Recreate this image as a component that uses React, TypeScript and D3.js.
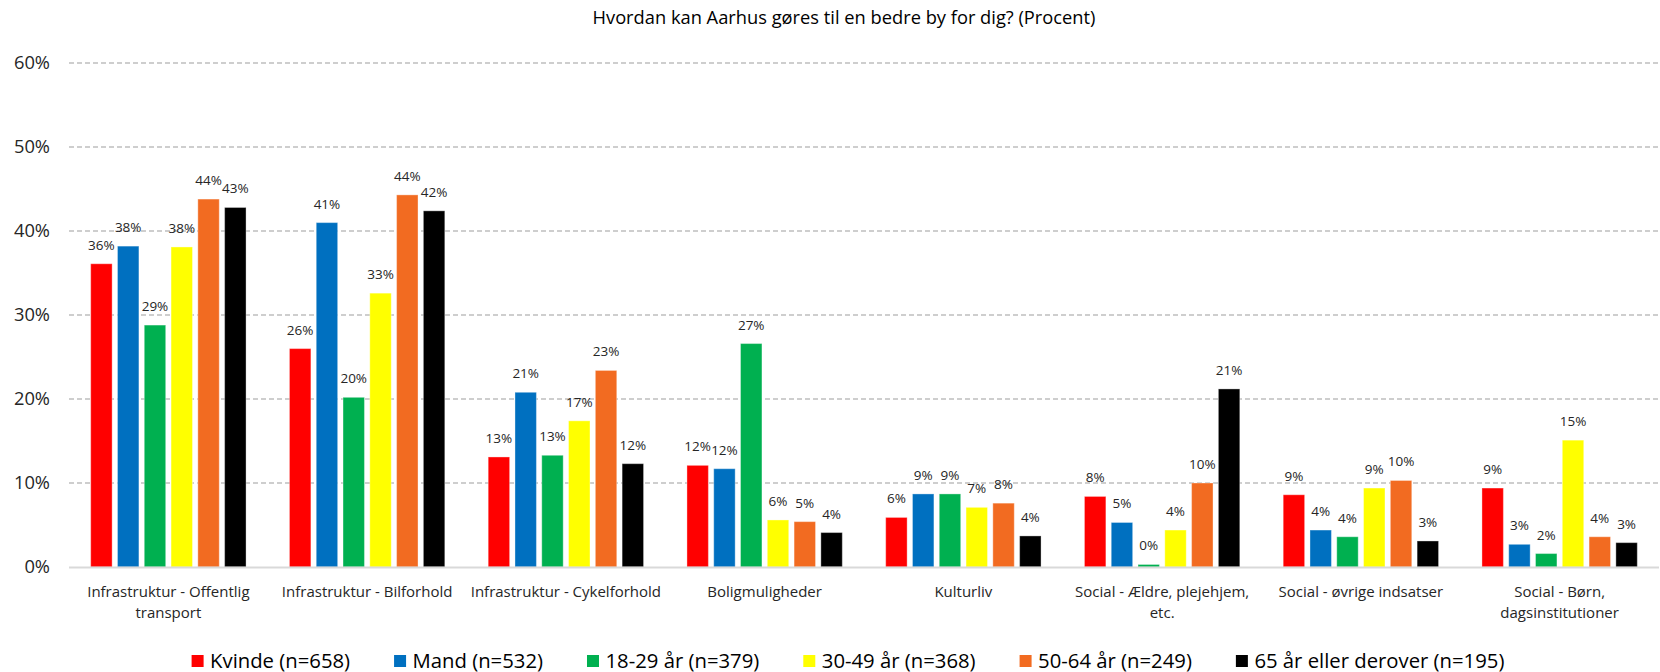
import React, { useEffect, useRef } from 'react';
import * as d3 from 'd3';

// categories on the x axis (line breaks as in the original)
const categories = [
  'Infrastruktur - Offentlig|transport',
  'Infrastruktur - Bilforhold',
  'Infrastruktur - Cykelforhold',
  'Boligmuligheder',
  'Kulturliv',
  'Social - Ældre, plejehjem,|etc.',
  'Social - øvrige indsatser',
  'Social - Børn,|dagsinstitutioner',
];

const seriesNames = [
  'Kvinde (n=658)',
  'Mand (n=532)',
  '18-29 år (n=379)',
  '30-49 år (n=368)',
  '50-64 år (n=249)',
  '65 år eller derover (n=195)',
];

const seriesColors = ['#FF0000', '#0070C0', '#00B050', '#FFFF00', '#F26B21', '#000000'];

// percent values, one array per series
const kvinde = [36.1, 26.0, 13.1, 12.1, 5.9, 8.4, 8.6, 9.4];
const mand = [38.2, 41.0, 20.8, 11.7, 8.7, 5.3, 4.4, 2.7];
const aar18_29 = [28.8, 20.2, 13.3, 26.6, 8.7, 0.3, 3.6, 1.6];
const aar30_49 = [38.1, 32.6, 17.4, 5.6, 7.1, 4.4, 9.4, 15.1];
const aar50_64 = [43.8, 44.3, 23.4, 5.4, 7.6, 10.0, 10.3, 3.6];
const aar65 = [42.8, 42.4, 12.3, 4.1, 3.7, 21.2, 3.1, 2.9];

const seriesValues = [kvinde, mand, aar18_29, aar30_49, aar50_64, aar65];

const yTicks = [0, 10, 20, 30, 40, 50, 60];

const title = 'Hvordan kan Aarhus gøres til en bedre by for dig? (Procent)';

const FONT = '"Segoe UI", "Open Sans", sans-serif';

const App = () => {
  const svgRef = useRef<SVGSVGElement | null>(null);

  useEffect(() => {
    if (!svgRef.current) return;
    d3.select(svgRef.current).selectAll('*').remove();

    const width = 1660;
    const height = 672;
    const margin = { top: 63, right: 1, bottom: 105, left: 69 };

    const svg = d3.select(svgRef.current)
      .attr('width', width)
      .attr('height', height)
      .style('font-family', FONT);

    const x0 = d3.scaleBand()
      .domain(categories)
      .range([margin.left, width - margin.right]);

    const inner = 21.7;
    const x1 = d3.scaleBand()
      .domain(seriesNames)
      .range([inner, x0.bandwidth() - inner])
      .paddingInner(0.2);

    const y = d3.scaleLinear()
      .domain([0, 60])
      .range([height - margin.bottom, margin.top]);

    // title
    svg.append('text')
      .attr('x', 844)
      .attr('y', 24)
      .attr('text-anchor', 'middle')
      .attr('font-size', '18.3px')
      .attr('fill', '#000')
      .text(title);

    // gridlines
    svg.append('g')
      .selectAll('line')
      .data(yTicks.filter(t => t > 0))
      .enter()
      .append('line')
      .attr('x1', margin.left)
      .attr('x2', width - margin.right)
      .attr('y1', d => y(d))
      .attr('y2', d => y(d))
      .attr('stroke', '#BFBFBF')
      .attr('stroke-width', 1.3)
      .attr('stroke-dasharray', '5 3');

    // y tick labels
    svg.append('g')
      .selectAll('text')
      .data(yTicks)
      .enter()
      .append('text')
      .attr('x', 50)
      .attr('y', d => y(d))
      .attr('dy', '0.35em')
      .attr('text-anchor', 'end')
      .attr('font-size', '18.3px')
      .attr('fill', '#262626')
      .text(d => `${d}%`);

    // bars
    const groups = svg.append('g')
      .selectAll('g')
      .data(categories)
      .enter()
      .append('g')
      .attr('transform', d => `translate(${x0(d)},0)`);

    const cells = (ci: number) => seriesNames.map((s, si) => ({
      s, color: seriesColors[si], v: seriesValues[si][ci],
    }));

    groups.selectAll('rect')
      .data((d, i) => cells(i))
      .enter()
      .append('rect')
      .attr('x', d => x1(d.s) as number)
      .attr('width', x1.bandwidth())
      .attr('y', d => y(d.v))
      .attr('height', d => y(0) - y(d.v))
      .attr('fill', d => d.color)
      .attr('stroke', 'rgba(255,255,255,0.35)')
      .attr('stroke-width', 1);

    // value labels
    groups.selectAll('text')
      .data((d, i) => cells(i))
      .enter()
      .append('text')
      .attr('x', d => (x1(d.s) as number) + x1.bandwidth() / 2)
      .attr('y', d => y(d.v) - 14)
      .attr('text-anchor', 'middle')
      .attr('font-size', '13.5px')
      .attr('fill', '#262626')
      .text(d => `${Math.round(d.v)}%`);

    // baseline
    svg.append('line')
      .attr('x1', margin.left)
      .attr('x2', width - margin.right)
      .attr('y1', y(0) + 0.5)
      .attr('y2', y(0) + 0.5)
      .attr('stroke', '#D9D9D9')
      .attr('stroke-width', 2);

    // category labels
    const catLabels = svg.append('g')
      .selectAll('text')
      .data(categories)
      .enter()
      .append('text')
      .attr('x', d => (x0(d) as number) + x0.bandwidth() / 2)
      .attr('y', 597)
      .attr('text-anchor', 'middle')
      .attr('font-size', '15px')
      .attr('fill', '#262626');

    catLabels.selectAll('tspan')
      .data(d => d.split('|').map(line => ({ line, cx: (x0(d) as number) + x0.bandwidth() / 2 })))
      .enter()
      .append('tspan')
      .attr('x', d => d.cx)
      .attr('dy', (d, i) => (i === 0 ? 0 : 20.5))
      .text(d => d.line);

    // legend
    const legend = svg.append('g');
    const items = legend.selectAll('g')
      .data(seriesNames)
      .enter()
      .append('g');

    items.append('rect')
      .attr('width', 12)
      .attr('height', 12)
      .attr('y', 655)
      .attr('fill', (d, i) => seriesColors[i]);

    items.append('text')
      .attr('x', 18.5)
      .attr('y', 667.5)
      .attr('font-size', '20.3px')
      .attr('fill', '#000')
      .text(d => d);

    const gap = 44;
    let cursor = 0;
    const offsets: number[] = [];
    items.each(function () {
      const t = d3.select(this).select('text').node() as SVGTextElement;
      offsets.push(cursor);
      cursor += 18.5 + t.getComputedTextLength() + gap;
    });
    const total = cursor - gap;
    const start = 848 - total / 2;
    items.attr('transform', (d, i) => `translate(${start + offsets[i]},0)`);
  }, []);

  return (
    <div style={{ position: 'absolute', left: 0, top: 0, width: 1660, height: 672, background: '#fff' }}>
      <svg ref={svgRef} style={{ display: 'block' }}></svg>
    </div>
  );
};

export default App;
